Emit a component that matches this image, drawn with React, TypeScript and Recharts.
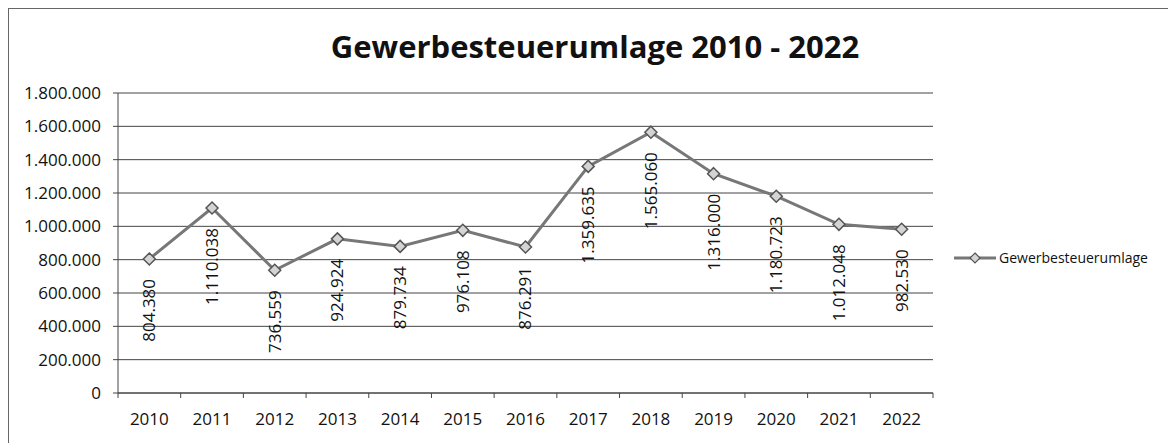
import {
  LineChart,
  Line,
  XAxis,
  YAxis,
  CartesianGrid,
  LabelList,
} from "recharts";

const years = ["2010", "2011", "2012", "2013", "2014", "2015", "2016", "2017", "2018", "2019", "2020", "2021", "2022"];
const umlage = [804380, 1110038, 736559, 924924, 879734, 976108, 876291, 1359635, 1565060, 1316000, 1180723, 1012048, 982530];
const yTicks = [0, 200000, 400000, 600000, 800000, 1000000, 1200000, 1400000, 1600000, 1800000];

const data = years.map((year, i) => ({ year, umlage: umlage[i] }));

const FONT = "'Open Sans', sans-serif";

// Tausenderpunkt wie im Original
const fmt = (v: number) => String(Math.round(v)).replace(/\B(?=(\d{3})+(?!\d))/g, ".");

const Diamond = (props: any) => {
  const { cx, cy, index } = props;
  if (cx == null || cy == null) return null;
  const r = 6;
  return (
    <polygon
      key={"d" + index}
      points={`${cx},${cy - r} ${cx + r},${cy} ${cx},${cy + r} ${cx - r},${cy}`}
      fill="#d4d4d4"
      stroke="#555"
      strokeWidth={1.5}
    />
  );
};

const RotLabel = (props: any) => {
  const { x, y, value } = props;
  const ly = y + 20;
  return (
    <text
      x={x}
      y={ly}
      dy="0.35em"
      transform={`rotate(-90 ${x} ${ly})`}
      textAnchor="end"
      fontSize={17}
      fontFamily={FONT}
      fill="#111"
    >
      {fmt(value)}
    </text>
  );
};

const YearTick = (props: any) => {
  const { x, y, payload, index } = props;
  const off = payload.offset ?? 0;
  const lineY = y - 20;
  return (
    <g>
      <line x1={x - off} x2={x - off} y1={lineY} y2={lineY + 5} stroke="#444" />
      {index === years.length - 1 && (
        <line x1={x + off} x2={x + off} y1={lineY} y2={lineY + 5} stroke="#444" />
      )}
      <text x={x} y={y} dy="0.71em" textAnchor="middle" fontSize={17} fontFamily={FONT} fill="#111">
        {payload.value}
      </text>
    </g>
  );
};

export default function App() {
  return (
    <div
      style={{
        position: "relative",
        width: 1168,
        height: 435,
        borderLeft: "1px solid #666",
        borderTop: "1px solid #666",
        boxSizing: "border-box",
        fontFamily: FONT,
      }}
    >
      <div
        style={{
          position: "absolute",
          left: 0,
          top: 20,
          width: 1172,
          textAlign: "center",
          fontSize: 31,
          fontWeight: 700,
          color: "#111",
          lineHeight: "34px",
        }}
      >
        Gewerbesteuerumlage 2010 - 2022
      </div>
      <LineChart
        width={1167}
        height={434}
        data={data}
        margin={{ top: 84, right: 243, left: 0, bottom: 10 }}
      >
        <CartesianGrid vertical={false} stroke="#444" />
        <XAxis
          dataKey="year"
          scale="band"
          height={40}
          tickLine={false}
          tickSize={5}
          tickMargin={15}
          axisLine={{ stroke: "#444" }}
          tick={<YearTick />}
          interval={0}
        />
        <YAxis
          width={109}
          domain={[0, 1800000]}
          ticks={yTicks}
          tickFormatter={fmt}
          tickSize={5}
          tickMargin={12}
          axisLine={{ stroke: "#444" }}
          tickLine={{ stroke: "#444" }}
          tick={{ fontSize: 17, fontFamily: FONT, fill: "#111" }}
          interval={0}
        />
        <Line
          type="linear"
          dataKey="umlage"
          stroke="#777"
          strokeWidth={3}
          dot={<Diamond />}
          activeDot={false}
          isAnimationActive={false}
        >
          <LabelList dataKey="umlage" content={<RotLabel />} />
        </Line>
      </LineChart>
      <div
        style={{
          position: "absolute",
          left: 944,
          top: 239,
          display: "flex",
          alignItems: "center",
          fontSize: 14,
          color: "#111",
        }}
      >
        <svg width={44} height={16}>
          <line x1={1} x2={43} y1={8} y2={8} stroke="#777" strokeWidth={3} />
          <polygon points="22,3 27,8 22,13 17,8" fill="#d4d4d4" stroke="#555" strokeWidth={1.2} />
        </svg>
        <span style={{ marginLeft: 2 }}>Gewerbesteuerumlage</span>
      </div>
    </div>
  );
}
